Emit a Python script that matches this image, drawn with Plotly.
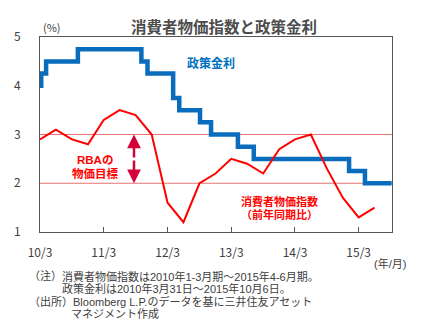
import plotly.graph_objects as go

# Consumer price index, year-on-year (%), quarterly 2010 Q1 - 2015 Q2
cpi_dates = [
    "2010-03-31", "2010-06-30", "2010-09-30", "2010-12-31",
    "2011-03-31", "2011-06-30", "2011-09-30", "2011-12-31",
    "2012-03-31", "2012-06-30", "2012-09-30", "2012-12-31",
    "2013-03-31", "2013-06-30", "2013-09-30", "2013-12-31",
    "2014-03-31", "2014-06-30", "2014-09-30", "2014-12-31",
    "2015-03-31", "2015-06-30",
]
cpi_values = [2.9, 3.1, 2.9, 2.8, 3.3, 3.5, 3.4, 3.0, 1.6, 1.2, 2.0,
              2.2, 2.5, 2.4, 2.2, 2.7, 2.9, 3.0, 2.3, 1.7, 1.3, 1.5]

# RBA cash rate target (%), change dates 2010-03-31 .. 2015-10-06
rate_dates = [
    "2010-03-31", "2010-04-07", "2010-05-05", "2010-11-03",
    "2011-11-02", "2011-12-07", "2012-05-02", "2012-06-06",
    "2012-10-03", "2012-12-05", "2013-05-08", "2013-08-07",
    "2015-02-04", "2015-05-06", "2015-10-06",
]
rate_values = [4.0, 4.25, 4.5, 4.75, 4.5, 4.25, 3.75, 3.5,
               3.25, 3.0, 2.75, 2.5, 2.25, 2.0, 2.0]

# Inflation target band
target_band = [2, 3]

tick_dates = ["2010-03-31", "2011-03-31", "2012-03-31",
              "2013-03-31", "2014-03-31", "2015-03-31"]
tick_labels = ["10/3", "11/3", "12/3", "13/3", "14/3", "15/3"]
y_ticks = [1, 2, 3, 4, 5]

W, H = 424, 328
L, R, T, B = 40, 32, 37, 96
FONT = "Noto Sans CJK JP"
COMPACT = "Liberation Sans, Noto Sans CJK JP"
GREY = "#404040"
RED = "#ff0000"
BLUE = "#0a6cbc"


def px(x):
    return (x - L) / (W - L - R)


def py(y):
    return (H - B - y) / (H - B - T)


fig = go.Figure()

fig.add_trace(go.Scatter(
    x=rate_dates, y=rate_values, mode="lines", line_shape="hv",
    line=dict(color=BLUE, width=4.5), hoverinfo="skip", showlegend=False,
))
fig.add_trace(go.Scatter(
    x=cpi_dates, y=cpi_values, mode="lines",
    line=dict(color=RED, width=2), hoverinfo="skip", showlegend=False,
))

for v in target_band:
    fig.add_shape(type="line", xref="paper", yref="y", x0=0, x1=1, y0=v, y1=v,
                  line=dict(color="#e57373", width=1), layer="below")

ann = []


def text(x, y, s, size=11, color=GREY, anchor="left", bold=False,
         family=FONT):
    if bold:
        s = "<b>" + s + "</b>"
    ann.append(dict(x=px(x), y=py(y), xref="paper", yref="paper", text=s,
                    showarrow=False, xanchor=anchor, yanchor="middle",
                    borderpad=0,
                    font=dict(family=family, size=size, color=color)))


text(224, 26, "消費者物価指数と政策金利", size=15.5, color="#4d4d4d",
     anchor="center", bold=True)
text(52, 27, "(%)", size=11, anchor="center")
text(211, 62, "政策金利", size=12, color="#0070c0", anchor="center", bold=True)
text(95, 160, "RBAの", size=11.5, color=RED, anchor="center", bold=True,
     family=COMPACT)
text(95, 173, "物価目標", size=11.5, color=RED, anchor="center", bold=True,
     family=COMPACT)
text(279, 201, "消費者物価指数", size=11, color=RED, anchor="center",
     bold=True, family=COMPACT)
text(279, 214, "（前年同期比）", size=11, color=RED, anchor="center",
     bold=True, family=COMPACT)
text(390, 263, "(年/月)", size=11, anchor="center", family=COMPACT)

text(28, 276, "（注）", family=COMPACT)
text(61, 276, "消費者物価指数は2010年1-3月期～2015年4-6月期。", family=COMPACT)
text(61, 288.5, "政策金利は2010年3月31日～2015年10月6日。", family=COMPACT)
text(28, 301, "（出所）", family=COMPACT)
text(72, 301, "Bloomberg L.P.のデータを基に三井住友アセット", family=COMPACT)
text(70, 313.5, "マネジメント作成", family=COMPACT)

# Double-headed arrow marking the target band: two heads from its midpoint
half = (H - B - T) / 4 * (target_band[1] - target_band[0]) / 2
for tip, off in ((target_band[1], half), (target_band[0], -half)):
    ann.append(dict(x=px(134), y=tip, xref="paper", yref="y",
                    ax=0, ay=off, showarrow=True, arrowhead=2,
                    arrowsize=1.1, arrowwidth=2.5, arrowcolor="#d4003a",
                    text=""))

fig.update_layout(
    width=W, height=H, margin=dict(l=L, r=R, t=T, b=B),
    paper_bgcolor="white", plot_bgcolor="white",
    font=dict(family=FONT, color=GREY),
    annotations=ann,
)
fig.update_xaxes(
    type="date", range=["2010-03-31", "2015-10-08"],
    tickvals=tick_dates, ticktext=tick_labels,
    ticks="inside", ticklen=5, tickcolor="#555", showgrid=False,
    showline=True, linecolor="#555", linewidth=1, mirror=True,
    tickfont=dict(size=12, color=GREY), ticklabelstandoff=10, zeroline=False,
)
fig.update_yaxes(
    range=[1, 5], tickvals=y_ticks, ticks="", showgrid=False,
    showline=True, linecolor="#555", linewidth=1, mirror=True,
    tickfont=dict(size=12, color=GREY), ticklabelstandoff=16, zeroline=False,
)

fig.write_html("out.html")
